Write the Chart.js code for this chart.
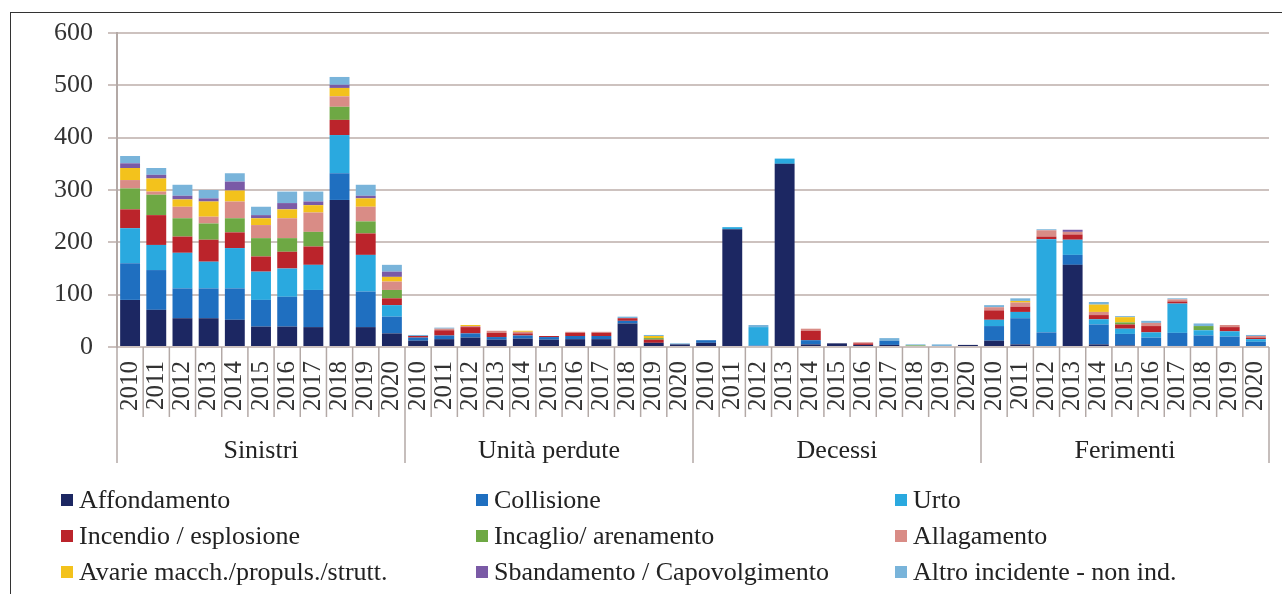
<!DOCTYPE html>
<html><head><meta charset="utf-8">
<script src="https://cdn.jsdelivr.net/npm/chart.js@4"></script>
<style>
html,body{margin:0;padding:0;background:#fff;width:1282px;height:594px;overflow:hidden}
#frame{position:absolute;left:10px;top:12px;width:1300px;height:640px;border:1.5px solid #333;box-sizing:border-box}
#wrap{position:absolute;left:0;top:0;width:1282px;height:594px}
#legend{position:absolute;left:0;top:482px;width:1282px;height:112px;font-family:'Liberation Serif',serif;font-size:26px;color:#222}
.item{position:absolute;height:36px;line-height:36px;white-space:nowrap}
.sw{position:absolute;width:12px;height:12px;top:12px}
</style></head>
<body>
<div id="frame"></div>
<div id="wrap"><canvas id="c"></canvas></div>
<div id="legend"></div>
<script>
const groups = ['Sinistri', 'Unità perdute', 'Decessi', 'Ferimenti'];
const years = ['2010','2011','2012','2013','2014','2015','2016','2017','2018','2019','2020'];
const seriesNames = ['Affondamento','Collisione','Urto','Incendio / esplosione','Incaglio/ arenamento','Allagamento','Avarie macch./propuls./strutt.','Sbandamento / Capovolgimento','Altro incidente - non ind.'];
const seriesColors = ['#1c2762','#1f6fc0','#2aa9df','#bb242b','#6ea844','#d98c86','#f3c21c','#7a5aa6','#79b4da'];

// order of each array: Sinistri 2010-2020, Unità perdute 2010-2020, Decessi 2010-2020, Ferimenti 2010-2020
const affondamento = [90,71,55,55,52,39,39,38,281,38,26,  12,15,18,14,16,14,15,15,45,8,5,  8,225,0,350,5,7,4,4,0,0,4,  12,5,0,157,5,3,0,2,0,0,0];
const collisione   = [70,76,57,57,60,51,57,71,51,68,32,   6,7,8,5,6,5,6,6,5,0,0,          5,0,3,0,8,0,0,8,0,2,0,      28,50,28,19,38,22,18,25,22,20,10];
const urto         = [67,48,68,51,77,54,54,48,73,70,22,   0,0,0,0,0,0,0,0,0,0,0,          0,4,35,10,0,0,0,0,0,0,0,    12,12,178,29,10,10,10,56,10,10,5];
const incendio     = [36,57,31,42,30,29,32,35,29,41,13,   3,10,12,8,4,2,6,6,5,6,0,        0,0,0,0,18,0,3,0,0,0,0,     18,10,5,10,8,8,12,4,0,8,3];
const incaglio     = [40,39,35,31,27,35,26,28,25,23,16,   0,0,0,0,0,0,0,0,0,3,0,          0,0,0,0,0,0,0,0,3,0,0,      0,0,0,0,0,4,0,0,8,0,0];
const allagamento  = [16,6,22,13,32,25,38,37,20,28,16,    0,3,2,4,3,0,2,2,0,0,0,          0,0,0,0,4,0,2,0,0,0,0,      6,8,12,5,6,0,6,4,0,4,3];
const avarie       = [23,25,14,29,21,13,17,14,16,16,9,    0,0,2,0,2,0,0,0,0,4,0,          0,0,0,0,0,0,0,0,0,0,0,      0,3,0,0,14,10,0,0,0,0,0];
const sbandamento  = [9,7,7,6,17,6,12,7,6,5,10,           0,0,0,0,0,0,0,0,0,0,0,          0,0,0,0,0,0,0,0,0,0,0,      0,0,0,4,0,0,0,0,0,0,0];
const altro        = [14,13,21,16,16,16,22,19,15,21,13,   2,2,0,0,0,0,0,0,3,2,2,          0,0,4,0,0,0,0,5,2,3,0,      4,5,2,0,5,2,4,2,5,0,2];
const yTicks = [0,100,200,300,400,500,600];

const seriesValues = [affondamento, collisione, urto, incendio, incaglio, allagamento, avarie, sbandamento, altro];
const labels = groups.flatMap(() => years);

const groupPlugin = {
  id: 'groups',
  afterDraw(chart) {
    const {ctx, chartArea, scales: {x}} = chart;
    const n = labels.length;
    const half = (x.getPixelForValue(1) - x.getPixelForValue(0)) / 2;
    ctx.save();
    ctx.strokeStyle = '#b3a9a6';
    ctx.lineWidth = 1.5;
    for (let i = 0; i <= n; i++) {
      const px = i < n ? x.getPixelForValue(i) - half : x.getPixelForValue(n - 1) + half;
      const isGroup = i % years.length === 0;
      ctx.beginPath();
      ctx.moveTo(px, chartArea.bottom);
      ctx.lineTo(px, chartArea.bottom + (isGroup ? 116 : 70));
      ctx.stroke();
    }
    ctx.fillStyle = '#222';
    ctx.font = "26px 'Liberation Serif'";
    ctx.textAlign = 'center';
    ctx.textBaseline = 'middle';
    groups.forEach((g, gi) => {
      const a = x.getPixelForValue(gi * years.length);
      const b = x.getPixelForValue((gi + 1) * years.length - 1);
      ctx.fillText(g, (a + b) / 2, chartArea.bottom + 104);
    });
    ctx.restore();
  }
};

new Chart(document.getElementById('c'), {
  type: 'bar',
  data: {
    labels: labels,
    datasets: seriesNames.map((name, i) => ({
      label: name,
      data: seriesValues[i],
      backgroundColor: seriesColors[i],
      borderWidth: 0,
      barPercentage: 0.76,
      categoryPercentage: 1
    }))
  },
  options: {
    responsive: true,
    maintainAspectRatio: false,
    animation: false,
    layout: {padding: {left: 0, right: 13, top: 33, bottom: 127}},
    plugins: {legend: {display: false}, tooltip: {enabled: false}},
    scales: {
      x: {
        stacked: true,
        grid: {display: false, drawTicks: false},
        border: {display: false},
        ticks: {autoSkip: false, minRotation: 90, maxRotation: 90, padding: 14, color: '#333',
                font: {family: "'Liberation Serif'", size: 25}},
        afterFit(s) { s.height = 120; s.paddingLeft = 0; s.paddingRight = 0; }
      },
      y: {
        stacked: true,
        min: yTicks[0],
        max: yTicks[yTicks.length - 1],
        grid: {color: '#cdc2bf', lineWidth: 2, tickLength: 9},
        border: {color: '#b3a9a6', width: 2},
        ticks: {stepSize: 100, padding: 15, color: '#333',
                font: {family: "'Liberation Serif'", size: 26}},
        afterFit(s) { s.width = 117; }
      }
    }
  },
  plugins: [groupPlugin]
});

// legend
const legend = document.getElementById('legend');
const textLeft = [79, 494, 913];
seriesNames.forEach((name, i) => {
  const col = i % 3, row = Math.floor(i / 3);
  const item = document.createElement('div');
  item.className = 'item';
  item.style.left = (textLeft[col] - 18) + 'px';
  item.style.top = (row * 36) + 'px';
  item.style.paddingLeft = '18px';
  const sw = document.createElement('span');
  sw.className = 'sw';
  sw.style.left = '0px';
  sw.style.background = seriesColors[i];
  item.appendChild(sw);
  item.appendChild(document.createTextNode(name));
  legend.appendChild(item);
});
</script>
</body></html>
